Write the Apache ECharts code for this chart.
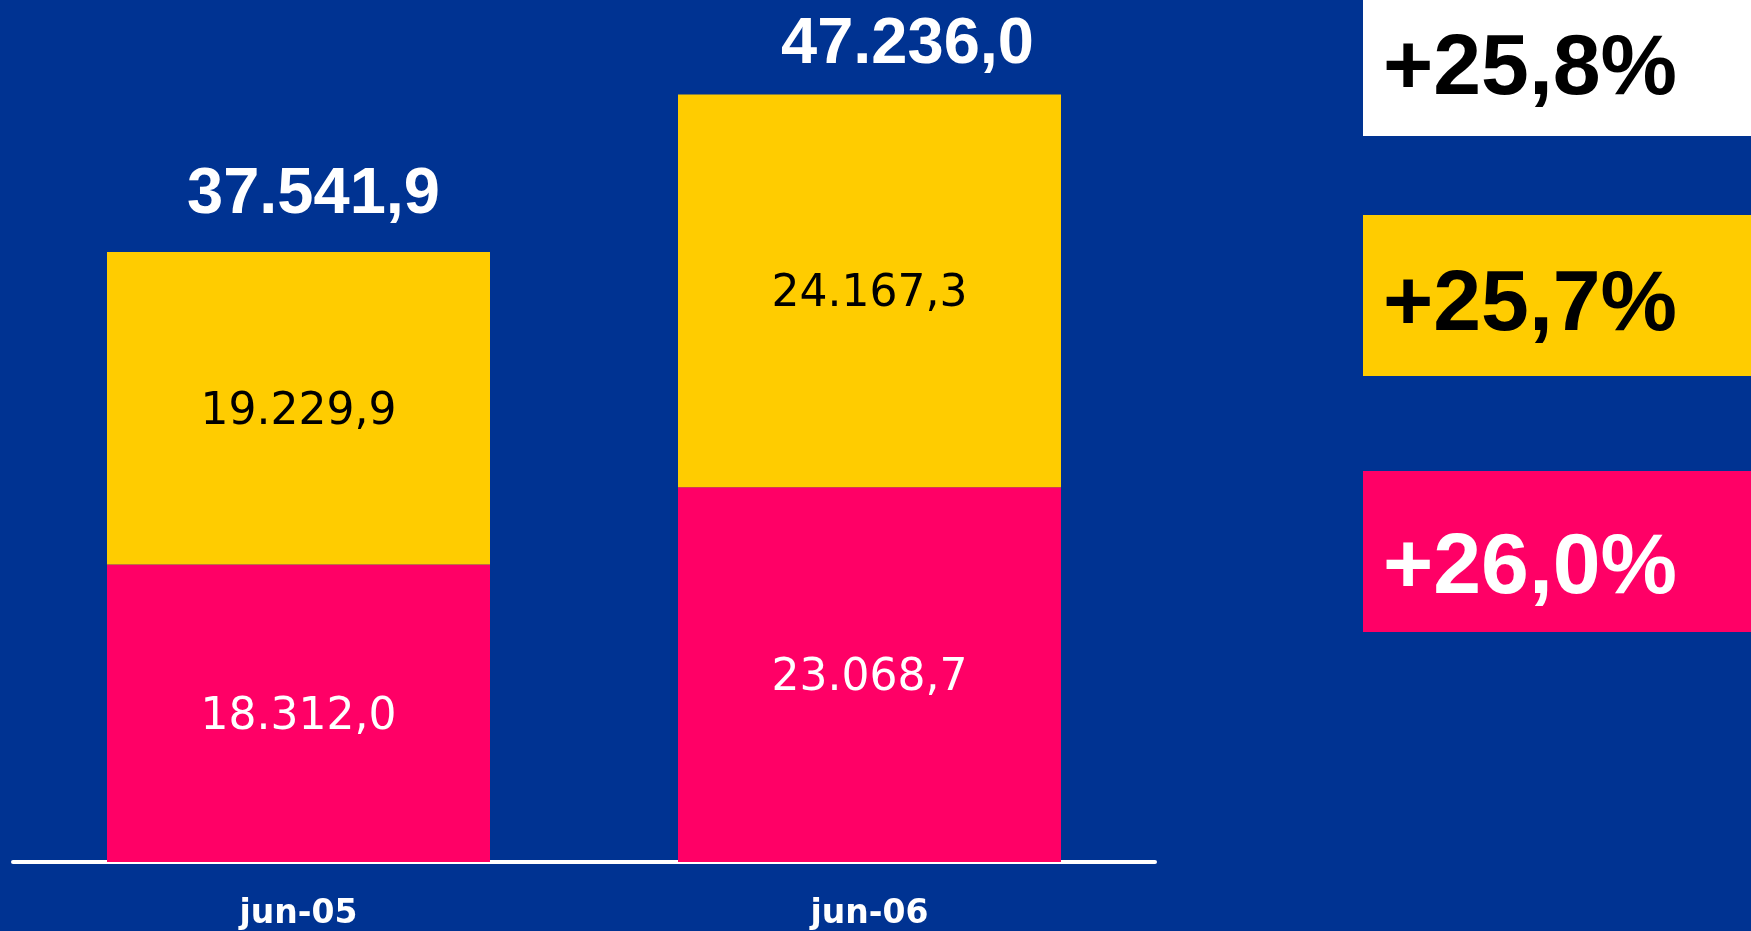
<!DOCTYPE html>
<html>
<head>
<meta charset="utf-8">
<title>jun-05 / jun-06</title>
<script src="https://cdn.jsdelivr.net/npm/echarts@6/dist/echarts.min.js"></script>
<style>
  html, body { margin: 0; padding: 0; background: #003392; }
  #chartsCover { width: 1751px; height: 931px; }
</style>
</head>
<body>
<div id="chartsCover"></div>
<script>
    // datos
    var categories = ['jun-05', 'jun-06'];
    var pinkValues = [18312.0, 23068.7];
    var yellowValues = [19229.9, 24167.3];
    var totals = [37541.9, 47236.0];
    var growthLabels = ['+25,8%', '+25,7%', '+26,0%'];

    var bgColor = '#003392';
    var yellow = '#FFCC00';
    var pink = '#FF0066';

    // 37541.9 -> "37.541,9"
    function fmtNum(v){
        var parts = v.toFixed(1).split('.');
        var ent = parts[0].replace(/\B(?=(\d{3})+(?!\d))/g, '.');
        return ent + ',' + parts[1];
    }

    var totalOffsets = [[15, -19], [38, -12]];   // posicion de los totales
    var totalData = [];
    for(var i = 0; i < totals.length; i++){
        totalData.push({
            value: 0,
            label: { offset: totalOffsets[i] }
        });
    }

    // cajas de la derecha
    var boxColors = ['#FFFFFF', yellow, pink];
    var boxTextColors = ['#000000', '#000000', '#FFFFFF'];
    var boxTop = [0, 215, 471];
    var boxHeight = [136, 161, 161];
    var textMid = [70, 306, 569];
    var graphics = [];
    for(var j = 0; j < growthLabels.length; j++){
        graphics.push({
            type: 'rect',
            shape: { x: 1363, y: boxTop[j], width: 400, height: boxHeight[j] },
            style: { fill: boxColors[j] },
            silent: true
        });
        graphics.push({
            type: 'text',
            x: 1383,
            y: textMid[j],
            style: {
                text: growthLabels[j],
                fill: boxTextColors[j],
                font: 'bold 86px "Liberation Sans", Arial, sans-serif',
                verticalAlign: 'middle',
                align: 'left'
            },
            silent: true
        });
    }

    var innerLabel = {
        show: true,
        position: 'inside',
        offset: [0, 4],
        fontFamily: '"DejaVu Sans", sans-serif',
        fontSize: 44,
        formatter: function(p){ return fmtNum(p.value); }
    };

    var chartsOption = {
        backgroundColor: bgColor,
        animation: false,
        grid: {
            left: 13,
            right: 596,
            top: 49.6,
            bottom: 69
        },
        xAxis: {
            type: 'category',
            data: categories,
            axisLine: { show: true, lineStyle: { color: '#FFFFFF', width: 4 } },
            axisTick: { show: false },
            axisLabel: {
                color: '#FFFFFF',
                fontFamily: '"DejaVu Sans", sans-serif',
                fontWeight: 'bold',
                fontSize: 33,
                margin: 36
            }
        },
        yAxis: {
            type: 'value',
            min: 0,
            max: 50000,
            show: false,
            splitLine: { show: false }
        },
        graphic: graphics,
        series: [
            {
                name: 'pink',
                type: 'bar',
                stack: 'total',
                barWidth: 383,
                itemStyle: { color: pink },
                label: Object.assign({}, innerLabel, { color: '#FFFFFF' }),
                data: pinkValues
            },
            {
                name: 'yellow',
                type: 'bar',
                stack: 'total',
                barWidth: 383,
                itemStyle: { color: yellow },
                label: Object.assign({}, innerLabel, { color: '#000000' }),
                data: yellowValues
            },
            {
                name: 'total',
                type: 'bar',
                stack: 'total',
                barWidth: 383,
                itemStyle: { color: 'transparent' },
                label: {
                    show: true,
                    position: 'top',
                    color: '#FFFFFF',
                    fontFamily: '"Liberation Sans", Arial, sans-serif',
                    fontWeight: 'bold',
                    fontSize: 65,
                    formatter: function(p){ return fmtNum(totals[p.dataIndex]); }
                },
                data: totalData
            }
        ]
    };

    var myChart = echarts.init(document.getElementById('chartsCover'));
    chartsOption && myChart.setOption(chartsOption, true);
</script>
</body>
</html>
